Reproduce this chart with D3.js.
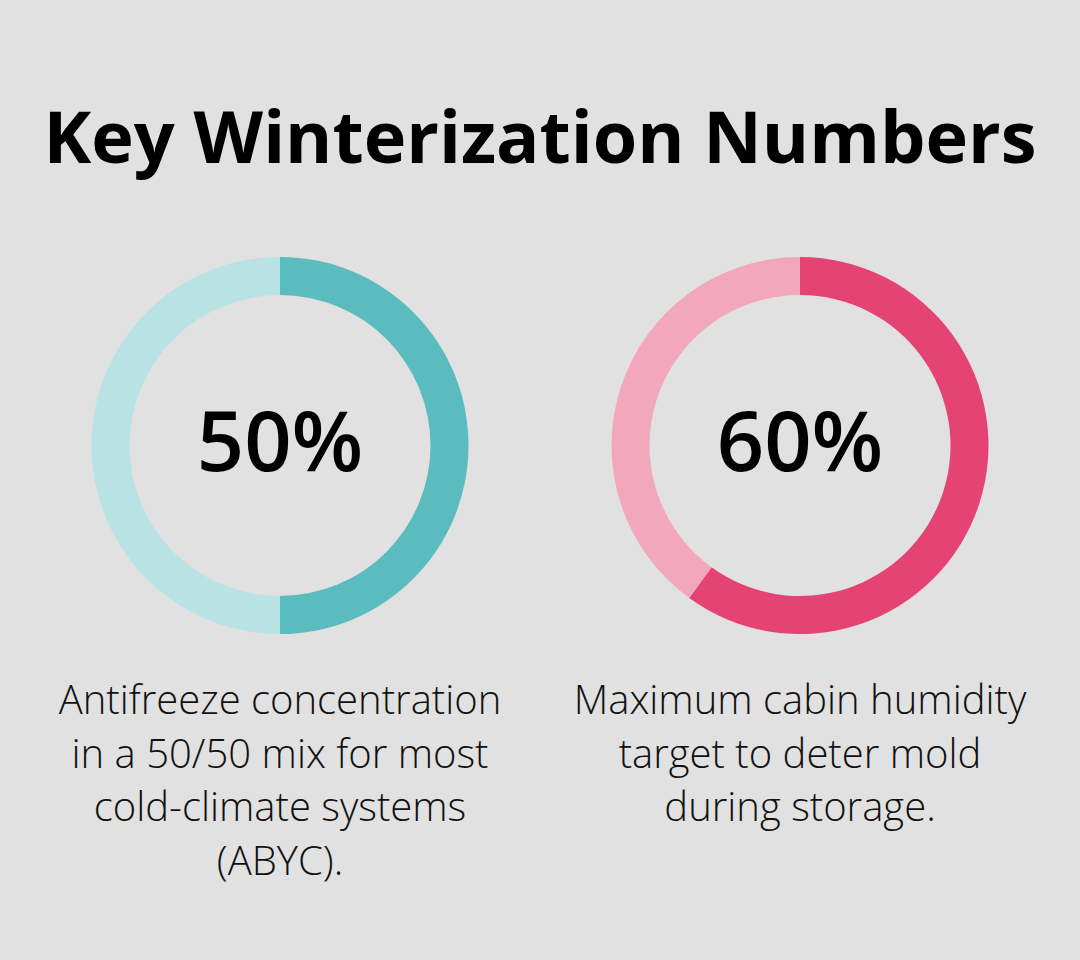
<!DOCTYPE html>
<html>
<head>
<meta charset="utf-8">
<script src="https://cdn.jsdelivr.net/npm/d3@7"></script>
<style>
html,body{margin:0;padding:0;background:#e0e1e0;}
svg{display:block;}
</style>
</head>
<body>
<script>
const title = "Key Winterization Numbers";
const labels = ["50%", "60%"];
const values = [50, 60];
const darkColors = ["#5bbcbf", "#e44374"];
const lightColors = ["#b8e2e4", "#f2a7bd"];
const descriptions = [
  ["Antifreeze concentration", "in a 50/50 mix for most", "cold-climate systems", "(ABYC)."],
  ["Maximum cabin humidity", "target to deter mold", "during storage."]
];

const W = 1080, H = 960;
const svg = d3.select("body").append("svg").attr("width", W).attr("height", H);
svg.append("rect").attr("width", W).attr("height", H).attr("fill", "#e0e1e0");

svg.append("text")
  .attr("x", 540).attr("y", 163)
  .attr("text-anchor", "middle")
  .attr("font-family", "'Open Sans', sans-serif")
  .attr("font-weight", 700)
  .attr("font-size", 72)
  .attr("fill", "#000")
  .text(title);

const xPos = d3.scalePoint().domain(d3.range(values.length)).range([280, 800]);
const pie = d3.pie().sort(null).value(d => d);
const arc = d3.arc().innerRadius(150.5).outerRadius(188.5);

values.forEach((v, i) => {
  const g = svg.append("g").attr("transform", `translate(${xPos(i)},445.5)`);
  const arcs = pie([v, 100 - v]);
  g.selectAll("path").data(arcs).join("path")
    .attr("d", arc)
    .attr("fill", (d, j) => j === 0 ? darkColors[i] : lightColors[i]);
  g.append("text")
    .attr("x", 0).attr("y", 25)
    .attr("text-anchor", "middle")
    .attr("font-family", "'Open Sans', sans-serif")
    .attr("font-weight", 600)
    .attr("font-size", 83)
    .attr("fill", "#000")
    .text(labels[i]);
  const t = svg.append("text")
    .attr("text-anchor", "middle")
    .attr("font-family", "'Open Sans', sans-serif")
    .attr("font-weight", 300)
    .attr("font-size", 40)
    .attr("fill", "#111");
  descriptions[i].forEach((line, k) => {
    t.append("tspan").attr("x", xPos(i)).attr("y", 714 + k * 53.7).text(line);
  });
});
</script>
</body>
</html>
